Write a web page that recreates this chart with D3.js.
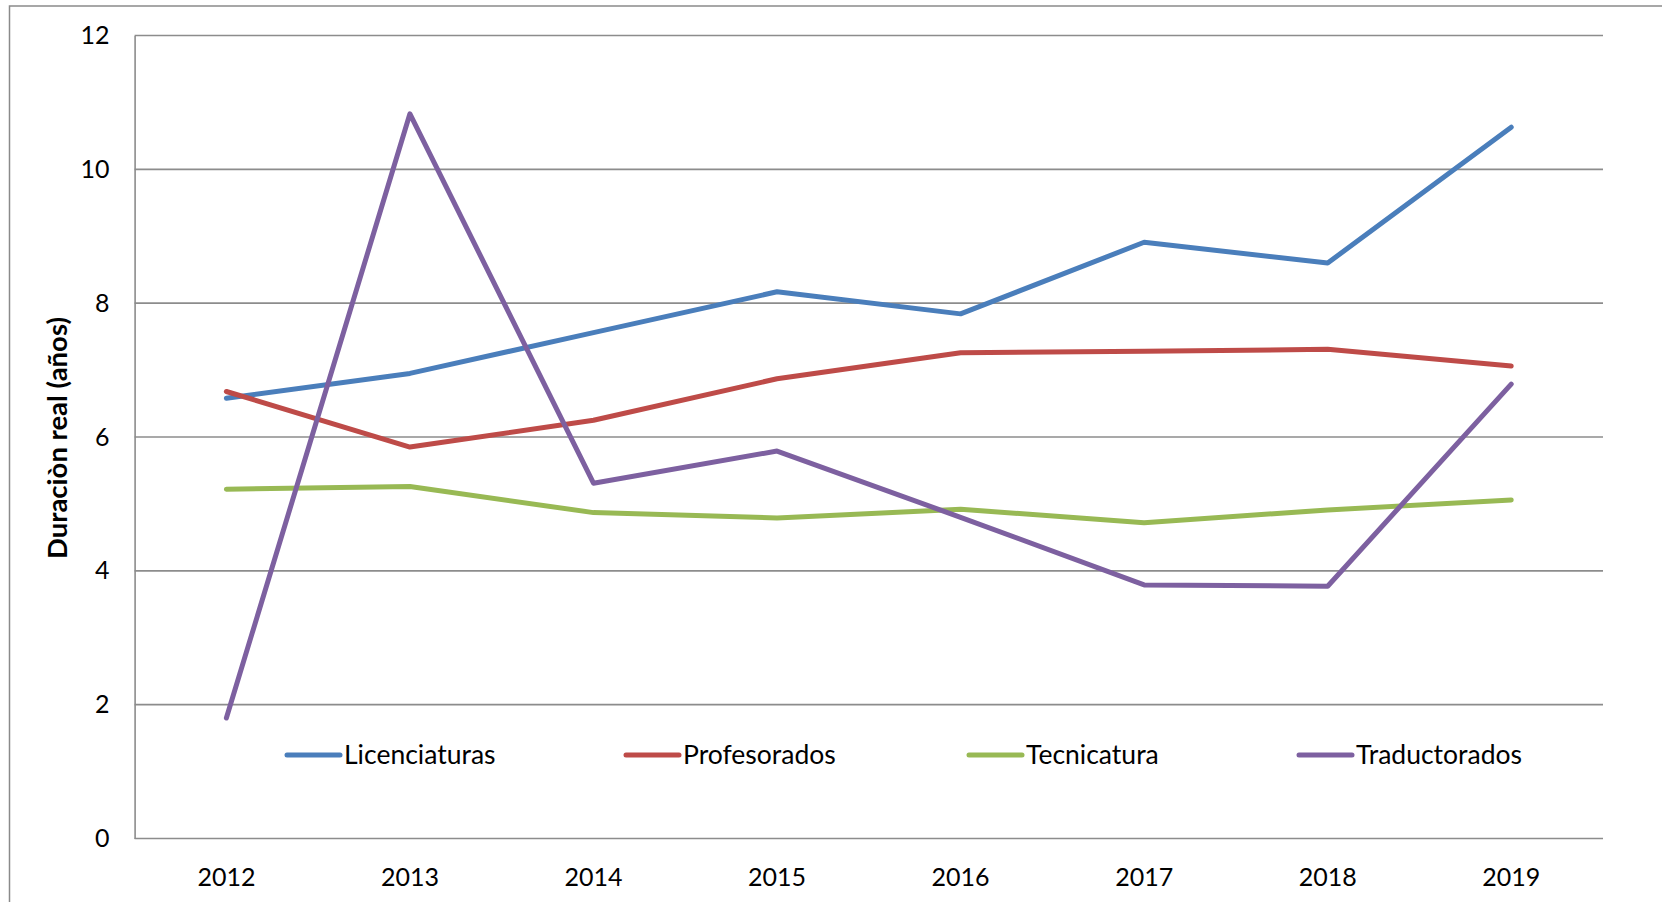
<!DOCTYPE html>
<html>
<head>
<meta charset="utf-8">
<script src="https://cdn.jsdelivr.net/npm/d3@7"></script>
<style>
  body { margin: 0; background: #fff; }
  svg { display: block; font-family: Lato, "Open Sans", sans-serif; }
</style>
</head>
<body>
<script>
const W = 1662, H = 902;

// data
const years = ['2012', '2013', '2014', '2015', '2016', '2017', '2018', '2019'];
const licenciaturas = [6.58, 6.95, 7.56, 8.17, 7.84, 8.91, 8.60, 10.63];
const profesorados  = [6.68, 5.85, 6.25, 6.87, 7.26, 7.28, 7.31, 7.06];
const tecnicatura   = [5.22, 5.26, 4.87, 4.79, 4.92, 4.72, 4.91, 5.06];
const traductorados = [1.80, 10.83, 5.31, 5.79, 4.80, 3.79, 3.77, 6.79];
const seriesNames = ['Licenciaturas', 'Profesorados', 'Tecnicatura', 'Traductorados'];
const colors = ['#4a7ebb', '#be4b48', '#98b954', '#7d60a0'];
const yTicks = [0, 2, 4, 6, 8, 10, 12];

const series = [licenciaturas, profesorados, tecnicatura, traductorados];

const m = {left: 134.6, right: 1603, top: 35.5, bottom: 838.5};

let svg = d3.select('body').append('svg')
    .attr('width', W)
    .attr('height', H);

// outer chart border (runs off the picture on right and bottom)
svg.append('rect')
    .attr('x', 9.5).attr('y', 6)
    .attr('width', 1700).attr('height', 950)
    .attr('fill', 'none')
    .attr('stroke', '#8a8a8a')
    .attr('stroke-width', 1.5);

let x = d3.scaleBand()
    .domain(years)
    .range([m.left, m.right]);

let y = d3.scaleLinear()
    .domain([0, 12])
    .range([m.bottom, m.top]);

// gridlines
svg.append('g')
    .selectAll('line')
    .data(yTicks)
    .enter()
    .append('line')
    .attr('x1', m.left).attr('x2', m.right)
    .attr('y1', d => y(d)).attr('y2', d => y(d))
    .attr('stroke', '#8c8c8c')
    .attr('stroke-width', 1.6);

// y axis
let yAxis = svg.append('g')
    .attr('transform', `translate(${m.left},0)`)
    .call(d3.axisLeft(y).tickValues(yTicks).tickSize(0).tickPadding(25));
yAxis.select('.domain').attr('stroke', '#8c8c8c').attr('stroke-width', 1.6);
yAxis.selectAll('text')
    .attr('font-size', 25)
    .attr('fill', '#000')
    .attr('font-family', 'Lato, sans-serif');

// x axis
let xAxis = svg.append('g')
    .attr('transform', `translate(0,${m.bottom})`)
    .call(d3.axisBottom(x).tickSize(0).tickPadding(30));
xAxis.select('.domain').remove();
xAxis.selectAll('text')
    .attr('font-size', 25)
    .attr('fill', '#000')
    .attr('font-family', 'Lato, sans-serif');

// axis title
svg.append('text')
    .attr('transform', 'translate(67,438) rotate(-90)')
    .attr('text-anchor', 'middle')
    .attr('font-size', 27.5)
    .attr('font-weight', 'bold')
    .text('Duraciòn real (años)');

// lines
let line = d3.line()
    .x((d, i) => x(years[i]) + x.bandwidth() / 2)
    .y(d => y(d));

svg.append('g')
    .selectAll('path')
    .data(series)
    .enter()
    .append('path')
    .attr('d', d => line(d))
    .attr('fill', 'none')
    .attr('stroke', (d, i) => colors[i])
    .attr('stroke-width', 5)
    .attr('stroke-linejoin', 'round')
    .attr('stroke-linecap', 'round');

// legend
const legendX = [287, 626, 969, 1299];
let legend = svg.append('g')
    .selectAll('g')
    .data(seriesNames)
    .enter()
    .append('g')
    .attr('transform', (d, i) => `translate(${legendX[i]},755)`);

legend.append('line')
    .attr('x1', 0).attr('x2', 53)
    .attr('stroke', (d, i) => colors[i])
    .attr('stroke-width', 5)
    .attr('stroke-linecap', 'round');

legend.append('text')
    .attr('x', 57)
    .attr('dy', '0.35em')
    .attr('font-size', 26.5)
    .text(d => d);
</script>
</body>
</html>
